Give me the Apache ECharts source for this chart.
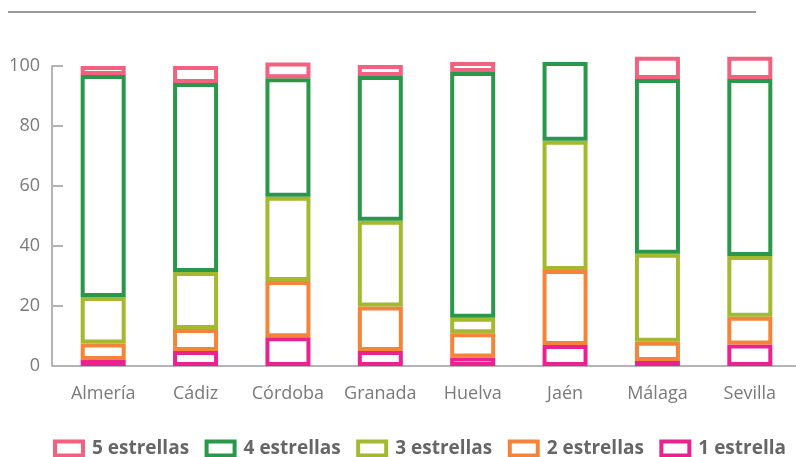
<!DOCTYPE html>
<html>
<head>
<meta charset="utf-8">
<script src="https://cdn.jsdelivr.net/npm/echarts@6/dist/echarts.min.js"></script>
<style>
  html, body { margin: 0; padding: 0; background: #ffffff; }
  #chart { width: 796px; height: 457px; }
</style>
</head>
<body>
<div id="chart"></div>
<script>
// Provinces of Andalucía
const provincias = ['Almería', 'Cádiz', 'Córdoba', 'Granada', 'Huelva', 'Jaén', 'Málaga', 'Sevilla'];

// Share of establishments by star category (%), stacked bottom to top
const unaEstrella     = [2.0, 5.0, 9.6, 5.0, 2.8, 7.0, 1.7, 7.2];
const dosEstrellas    = [5.5, 7.3, 18.7, 14.8, 8.1, 25.0, 6.4, 9.2];
const tresEstrellas   = [15.5, 19.0, 28.1, 28.6, 5.2, 43.1, 29.3, 20.3];
const cuatroEstrellas = [74.0, 63.0, 39.5, 48.3, 81.9, 26.2, 58.3, 59.0];
const cincoEstrellas  = [3.0, 5.7, 5.3, 3.6, 3.3, 0, 7.4, 7.4];

const yTicks = [0, 20, 40, 60, 80, 100];

const seriesDefs = [
  { name: '1 estrella',  data: unaEstrella,     color: '#e8238f' },
  { name: '2 estrellas', data: dosEstrellas,    color: '#f4843a' },
  { name: '3 estrellas', data: tresEstrellas,   color: '#a4b830' },
  { name: '4 estrellas', data: cuatroEstrellas, color: '#29984a' },
  { name: '5 estrellas', data: cincoEstrellas,  color: '#f2617f' }
];

const chart = echarts.init(document.getElementById('chart'), null, { renderer: 'canvas' });

chart.setOption({
  animation: false,
  backgroundColor: '#ffffff',
  textStyle: { fontFamily: 'Open Sans' },
  graphic: [{
    type: 'line',
    shape: { x1: 8, y1: 12, x2: 756, y2: 12 },
    style: { stroke: '#9a9a9a', lineWidth: 2 }
  }],
  grid: { left: 57, top: 66, width: 757, height: 300 },
  legend: {
    data: ['5 estrellas', '4 estrellas', '3 estrellas', '2 estrellas', '1 estrella'],
    left: 53,
    top: 439,
    padding: 0,
    width: 800,
    itemWidth: 28,
    itemHeight: 14,
    itemGap: 15.5,
    icon: 'rect',
    itemStyle: { borderWidth: 4 },
    textStyle: {
      fontFamily: 'Open Sans',
      fontSize: 19,
      fontWeight: 'bold',
      color: '#666666',
      padding: [0, 0, 0, 4]
    }
  },
  xAxis: {
    type: 'category',
    data: provincias,
    axisLine: { show: true, lineStyle: { color: '#b4b4b8', width: 2 } },
    axisTick: { show: false },
    axisLabel: { interval: 0, hideOverlap: false, color: '#7a7a7a', fontSize: 18, margin: 19, fontFamily: 'Open Sans' }
  },
  yAxis: {
    type: 'value',
    min: yTicks[0],
    max: yTicks[yTicks.length - 1],
    interval: 20,
    offset: 5,
    axisLine: { show: true, lineStyle: { color: '#b4b4b8', width: 2 } },
    axisTick: { show: true, inside: true, length: 11, lineStyle: { color: '#b4b4b8', width: 2 } },
    splitLine: { show: false },
    axisLabel: { color: '#7a7a7a', fontSize: 18, margin: 12, fontFamily: 'Open Sans' }
  },
  series: seriesDefs.map(function (s) {
    return {
      name: s.name,
      type: 'bar',
      stack: 'total',
      barWidth: 45,
      clip: false,
      data: s.data.map(function (v) { return v === 0 ? '-' : v; }),
      itemStyle: { color: '#ffffff', borderColor: s.color, borderWidth: 4 },
      emphasis: { disabled: true }
    };
  })
});
</script>
</body>
</html>
